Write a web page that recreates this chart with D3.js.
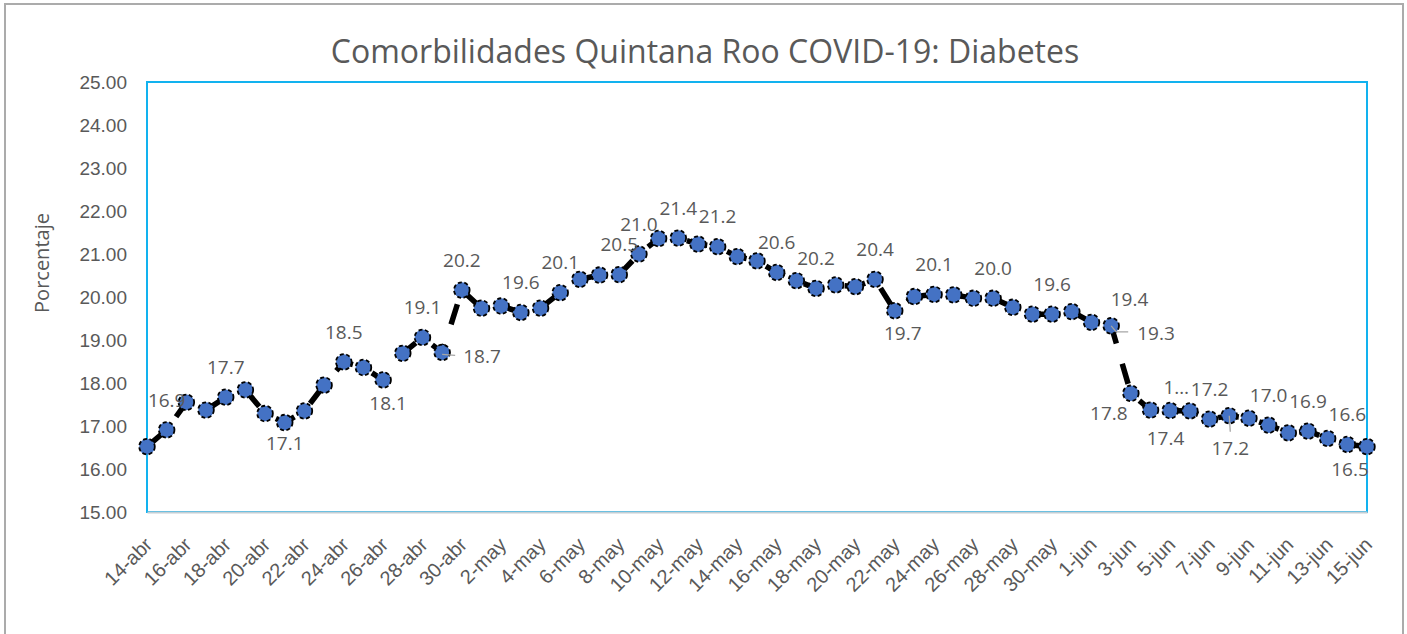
<!DOCTYPE html>
<html>
<head>
<meta charset="utf-8">
<script src="https://cdn.jsdelivr.net/npm/d3@7"></script>
<style>
  body { margin: 0; background: #fff; }
  svg { display: block; font-family: "Open Sans", sans-serif; }
  .tick text { fill: #595959; }
</style>
</head>
<body>
<script>
// dates (one point per day)
const categories = [
  "14-abr","15-abr","16-abr","17-abr","18-abr","19-abr","20-abr","21-abr","22-abr","23-abr",
  "24-abr","25-abr","26-abr","27-abr","28-abr","29-abr","30-abr",
  "1-may","2-may","3-may","4-may","5-may","6-may","7-may","8-may","9-may","10-may",
  "11-may","12-may","13-may","14-may","15-may","16-may","17-may","18-may","19-may","20-may",
  "21-may","22-may","23-may","24-may","25-may","26-may","27-may","28-may","29-may","30-may","31-may",
  "1-jun","2-jun","3-jun","4-jun","5-jun","6-jun","7-jun","8-jun","9-jun","10-jun",
  "11-jun","12-jun","13-jun","14-jun","15-jun"
];

// porcentaje de casos con diabetes
const diabetes = [
  16.52, 16.91, 17.55, 17.37, 17.67, 17.84, 17.29, 17.08, 17.35, 17.95,
  18.49, 18.36, 18.07, 18.69, 19.06, 18.71, 20.16,
  19.74, 19.79, 19.64, 19.74, 20.10, 20.41, 20.51, 20.52, 21.00, 21.36,
  21.37, 21.23, 21.17, 20.94, 20.84, 20.57, 20.38, 20.20, 20.28, 20.24,
  20.41, 19.68, 20.01, 20.06, 20.05, 19.97, 19.97, 19.76, 19.60, 19.60, 19.66,
  19.41, 19.33, 17.76, 17.37, 17.36, 17.35, 17.16, 17.24, 17.18, 17.02,
  16.84, 16.88, 16.71, 16.57, 16.52
];

// every second date gets a tick label
const tickLabels = categories.filter((d, i) => i % 2 === 0);
const yTicks = [15, 16, 17, 18, 19, 20, 21, 22, 23, 24, 25];

// points that carry a data label
const labeled = [1, 4, 7, 10, 12, 14, 15, 16, 19, 21, 24, 25, 27, 29, 32, 34, 37, 38,
                 40, 43, 46, 48, 49, 50, 51, 52, 54, 55, 57, 59, 61, 62];

const W = 1407, H = 634;
const plot = {left: 147, right: 1367, top: 82, bottom: 512};

const svg = d3.select("body").append("svg")
  .attr("width", W)
  .attr("height", H);

// chart frame
svg.append("rect")
  .attr("x", 5).attr("y", 4)
  .attr("width", 1398).attr("height", 640)
  .attr("fill", "#fff")
  .attr("stroke", "#ababab")
  .attr("stroke-width", 2);

const x = d3.scalePoint().domain(categories).range([plot.left, plot.right]);
const y = d3.scaleLinear().domain([15, 25]).range([plot.bottom, plot.top]);

// plot area border
svg.append("rect")
  .attr("x", plot.left).attr("y", plot.top)
  .attr("width", plot.right - plot.left).attr("height", plot.bottom - plot.top)
  .attr("fill", "none")
  .attr("stroke", "#12b2ef")
  .attr("stroke-width", 2);

// title
svg.append("text")
  .attr("x", 705).attr("y", 63)
  .attr("text-anchor", "middle")
  .attr("fill", "#595959")
  .style("font-size", "32px")
  .text("Comorbilidades Quintana Roo COVID-19: Diabetes");

// y axis
const yAxis = svg.append("g")
  .attr("transform", "translate(" + plot.left + ",0)")
  .call(d3.axisLeft(y).tickValues(yTicks).tickFormat(d3.format(".2f")).tickSize(0).tickPadding(20));
yAxis.select(".domain").remove();
yAxis.selectAll("text").style("font-size", "19px");

svg.append("text")
  .attr("transform", "translate(42,263) rotate(-90)")
  .attr("text-anchor", "middle")
  .attr("dy", "0.35em")
  .attr("fill", "#595959")
  .style("font-size", "20px")
  .text("Porcentaje");

// x axis
const xAxis = svg.append("g")
  .attr("transform", "translate(0," + plot.bottom + ")")
  .call(d3.axisBottom(x).tickValues(tickLabels).tickSize(0));
xAxis.select(".domain")
  .attr("stroke", "#c4ced4")
  .attr("stroke-width", 2);
xAxis.selectAll("text")
  .style("font-size", "20px")
  .attr("text-anchor", "end")
  .attr("x", 0).attr("y", 0).attr("dy", "0.35em")
  .attr("transform", "translate(1,29) rotate(-45)");

// the line
const line = d3.line()
  .x((d, i) => x(categories[i]))
  .y(d => y(d));

svg.append("path")
  .datum(diabetes)
  .attr("fill", "none")
  .attr("stroke", "#000")
  .attr("stroke-width", 5.5)
  .attr("stroke-dasharray", "21,21")
  .attr("d", line);

// markers
svg.selectAll(".dot")
  .data(diabetes)
  .enter().append("circle")
    .attr("class", "dot")
    .attr("cx", (d, i) => x(categories[i]))
    .attr("cy", d => y(d))
    .attr("r", 7.8)
    .attr("fill", "#4472c4")
    .attr("stroke", "#000")
    .attr("stroke-width", 1.8)
    .attr("stroke-dasharray", "4,2.5");

// label placement: default above; some moved by hand like in the original
const place = {
  7: {dy: 21}, 12: {dx: 5, dy: 23}, 38: {dx: 8, dy: 23},
  15: {dx: 21, dy: 4, anchor: "start", leader: [[0, 2], [13, 3]]},
  48: {dx: 38, dy: -23},
  49: {dx: 26, dy: 8, anchor: "start", leader: [[0, 0], [5, 6], [17, 6]]},
  50: {dx: -22, dy: 20},
  51: {dx: 15, dy: 28},
  52: {dx: 6, dy: -23, text: "1…"},
  55: {dx: 1, dy: 33, leader: [[0, 0], [1, 16]]},
  62: {dx: -17, dy: 23}
};

const fmt = d3.format(".1f");
const labelG = svg.append("g");

labeled.forEach(function(i) {
  const p = place[i] || {};
  const cx = x(categories[i]), cy = y(diabetes[i]);
  if (p.leader) {
    labelG.append("path")
      .attr("d", d3.line()(p.leader.map(q => [cx + q[0], cy + q[1]])))
      .attr("fill", "none")
      .attr("stroke", "#a6a6a6")
      .attr("stroke-width", 1.3);
  }
  labelG.append("text")
    .attr("x", cx + (p.dx || 0))
    .attr("y", cy + (p.dy === undefined ? -30 : p.dy))
    .attr("dy", "0.35em")
    .attr("text-anchor", p.anchor || "middle")
    .attr("fill", "#595959")
    .style("font-size", "19px")
    .text(p.text || fmt(diabetes[i]));
});
</script>
</body>
</html>
